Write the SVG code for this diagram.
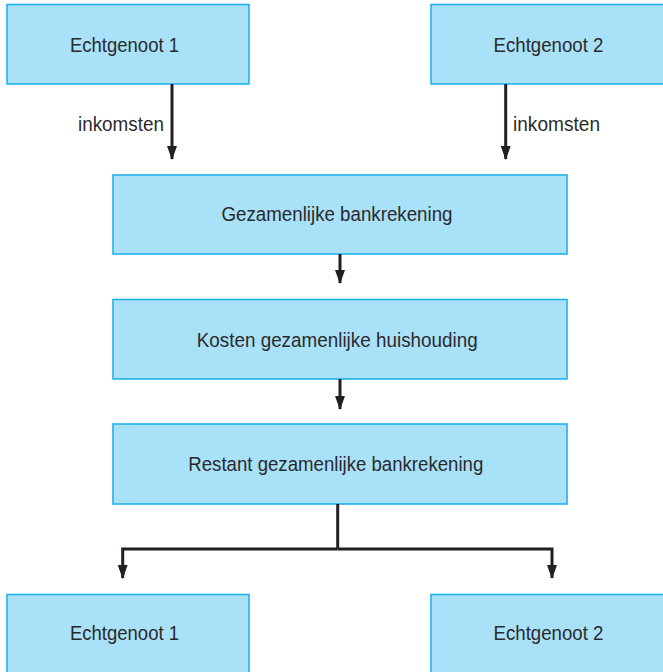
<svg xmlns="http://www.w3.org/2000/svg" width="663" height="672" viewBox="0 0 663 672">
<defs>
<style>
.box{fill:#a9e1f9;stroke:#22b2ec;stroke-width:1.6}
.t{font-family:"Liberation Sans",Arial,sans-serif;font-size:20.5px;fill:#2a2a2c;text-anchor:middle}
.lbl{font-family:"Liberation Sans",Arial,sans-serif;font-size:20.5px;fill:#2a2a2c}
.c{fill:none;stroke:#231f20;stroke-width:3}
</style>
<marker id="ah" viewBox="0 0 14 10" markerWidth="14" markerHeight="10" refX="13" refY="5" orient="auto" markerUnits="userSpaceOnUse">
<path d="M0,0 L14,5 L0,10 Z" fill="#231f20"/>
</marker>
</defs>
<rect width="663" height="672" fill="#ffffff"/>
<g id="echtgenoot1-top"><rect class="box" x="7" y="4.5" width="242" height="79.5"/><text class="t" x="124.5" y="51.5" textLength="109" lengthAdjust="spacingAndGlyphs">Echtgenoot 1</text></g>
<g id="echtgenoot2-top"><rect class="box" x="431" y="4.5" width="245" height="79.5"/><text class="t" x="548.5" y="51.5" textLength="110" lengthAdjust="spacingAndGlyphs">Echtgenoot 2</text></g>
<g id="gezamenlijke-bankrekening"><rect class="box" x="113" y="175" width="454" height="79"/><text class="t" x="337" y="221" textLength="231" lengthAdjust="spacingAndGlyphs">Gezamenlijke bankrekening</text></g>
<g id="kosten"><rect class="box" x="113" y="299.5" width="454" height="79.5"/><text class="t" x="337.2" y="346.5" textLength="281" lengthAdjust="spacingAndGlyphs">Kosten gezamenlijke huishouding</text></g>
<g id="restant"><rect class="box" x="113" y="424" width="454" height="80"/><text class="t" x="335.8" y="471" textLength="295" lengthAdjust="spacingAndGlyphs">Restant gezamenlijke bankrekening</text></g>
<g id="echtgenoot1-bottom"><rect class="box" x="7" y="594.5" width="242" height="82"/><text class="t" x="124.5" y="640" textLength="109" lengthAdjust="spacingAndGlyphs">Echtgenoot 1</text></g>
<g id="echtgenoot2-bottom"><rect class="box" x="431" y="594.5" width="245" height="82"/><text class="t" x="548.5" y="640" textLength="110" lengthAdjust="spacingAndGlyphs">Echtgenoot 2</text></g>
<g id="connectors">
<path class="c" d="M172,84 V159" marker-end="url(#ah)"/>
<path class="c" d="M505.7,84 V159" marker-end="url(#ah)"/>
<path class="c" d="M340,254 V283" marker-end="url(#ah)"/>
<path class="c" d="M340,379 V409" marker-end="url(#ah)"/>
<path class="c" d="M337.7,504 V549"/>
<path class="c" d="M337.7,549 H122.7 V578" marker-end="url(#ah)"/>
<path class="c" d="M337.7,549 H552 V578" marker-end="url(#ah)"/>
<text class="lbl" x="78" y="131" textLength="86" lengthAdjust="spacingAndGlyphs">inkomsten</text>
<text class="lbl" x="513" y="131" textLength="87" lengthAdjust="spacingAndGlyphs">inkomsten</text>
</g>
</svg>
